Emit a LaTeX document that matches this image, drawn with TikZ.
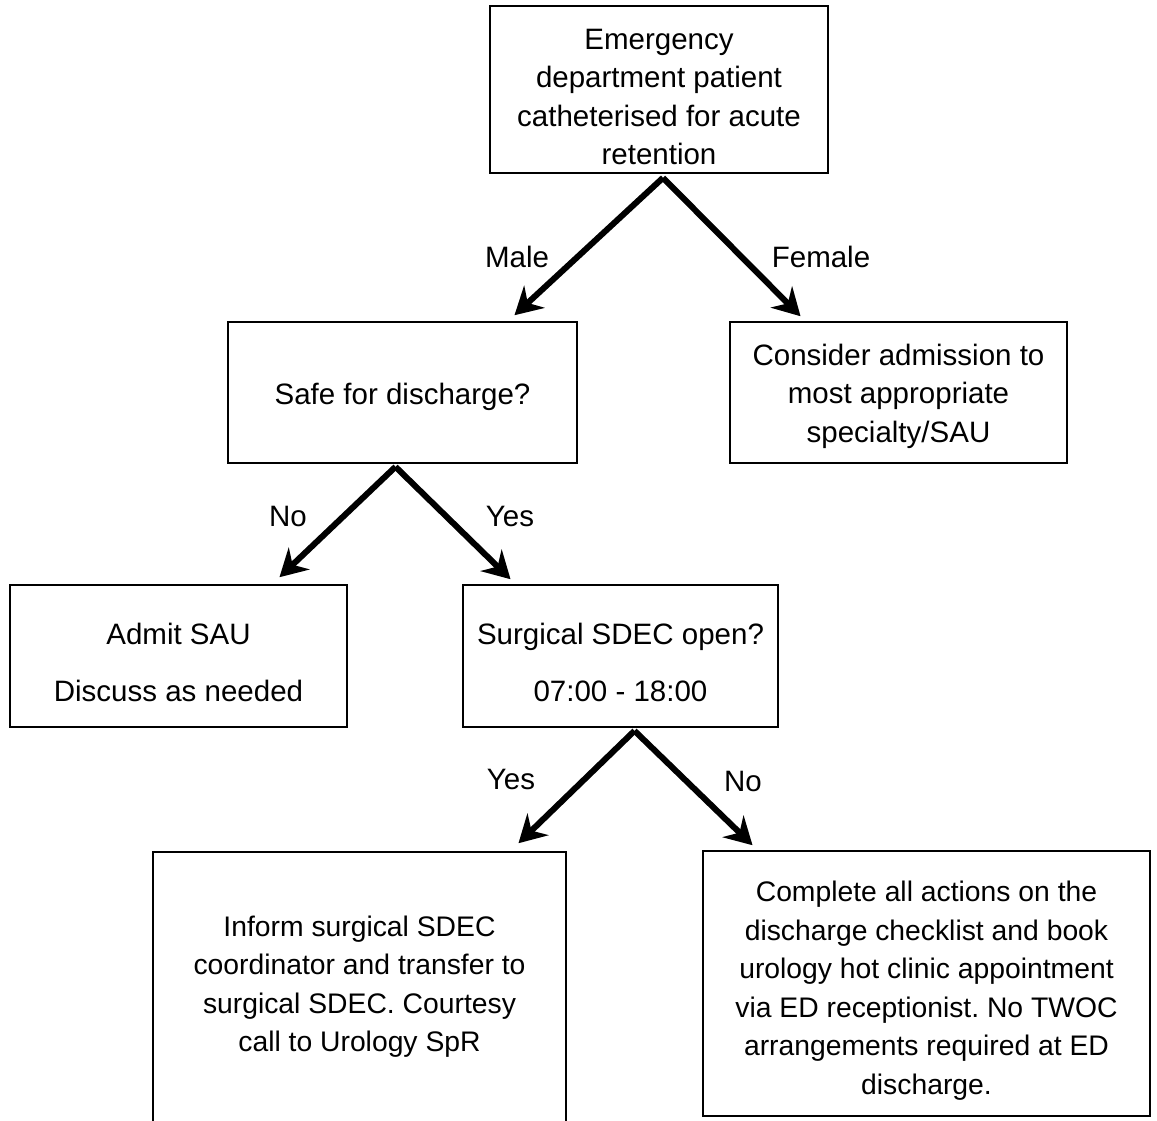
\documentclass[tikz,border=0pt]{standalone}
\usepackage{fontspec}
\setmainfont{Liberation Sans}
\usetikzlibrary{arrows.meta,calc}
\begin{document}
\frenchspacing
\begin{tikzpicture}[x=1pt,y=-1pt,
  box/.style={draw=black,line width=1.6pt,inner sep=0pt,rectangle},
  txt/.style={font=\fontsize{29.5}{38.5}\selectfont\frenchspacing,align=center,inner sep=0pt,anchor=base},
  txtsm/.style={txt,font=\fontsize{28.3}{38.5}\selectfont\frenchspacing},
  lbl/.style={font=\fontsize{29.5}{38.5}\selectfont,inner sep=0pt,anchor=base},
  arr/.style={line width=6pt,-{Stealth[length=27pt,width=30pt,inset=9pt]}},
  shd/.style={line width=6pt,draw=black!35,opacity=0.45,-{Stealth[length=27pt,width=30pt,inset=9pt]},shift={(2pt,-3pt)}},
]
\useasboundingbox (0,0) rectangle (1157,1121);
\clip (0,0) rectangle (1157,1121);

% boxes
\node[box,minimum width=338pt,minimum height=167pt] (A) at (659,89.5) {};
\node[box,minimum width=349pt,minimum height=141pt] (B) at (402.5,392.5) {};
\node[box,minimum width=337pt,minimum height=141pt] (C) at (898.5,392.5) {};
\node[box,minimum width=337pt,minimum height=142pt] (D) at (178.5,656) {};
\node[box,minimum width=315pt,minimum height=142pt] (E) at (620.5,656) {};
\node[box,minimum width=413pt,minimum height=328pt] (F) at (359.5,1016) {};
\node[box,minimum width=447pt,minimum height=265pt] (G) at (926.5,983.5) {};

% texts (anchored at the baseline of the last line)
\node[txt] (At) at (659,164.5) {Emergency\\department patient\\catheterised for acute\\retention};
\node[txt] (Bt) at (402.5,404) {Safe for discharge?};
\node[txt] (Ct) at (898.5,442) {Consider admission to\\most appropriate\\specialty/SAU};
\node[txt] (Dt) at (178.5,701) {Admit SAU\\[18.5pt]Discuss as needed};
\node[txt] (Et) at (620.5,701) {Surgical SDEC open?\\[18.5pt]07:00 - 18:00};
\node[txtsm] (Ft) at (359.5,1051.5) {Inform surgical SDEC\\coordinator and transfer to\\surgical SDEC. Courtesy\\call to Urology SpR};
\node[txtsm] (Gt) at (926.5,1094) {Complete all actions on the\\discharge checklist and book\\urology hot clinic appointment\\via ED receptionist. No TWOC\\arrangements required at ED\\discharge.};

% connectors: shadows
\draw[shd] ($(A.south)+(4,4)$) -- ($(B.north)+(112,-6)$);
\draw[shd] ($(A.south)+(4,4)$) -- ($(C.north)+(-98,-5)$);
\draw[shd] ($(B.south)+(-7,3)$) -- ($(D.north)+(101,-7)$);
\draw[shd] ($(B.south)+(-7,3)$) -- ($(E.north)+(-110,-5)$);
\draw[shd] ($(E.south)+(14,3)$) -- ($(F.north)+(159,-8)$);
\draw[shd] ($(E.south)+(14,3)$) -- ($(G.north)+(-174,-5)$);
% connectors
\draw[arr] ($(A.south)+(4,4)$) -- ($(B.north)+(112,-6)$);
\draw[arr] ($(A.south)+(4,4)$) -- ($(C.north)+(-98,-5)$);
\draw[arr] ($(B.south)+(-7,3)$) -- ($(D.north)+(101,-7)$);
\draw[arr] ($(B.south)+(-7,3)$) -- ($(E.north)+(-110,-5)$);
\draw[arr] ($(E.south)+(14,3)$) -- ($(F.north)+(159,-8)$);
\draw[arr] ($(E.south)+(14,3)$) -- ($(G.north)+(-174,-5)$);

% labels
\node[lbl] (lMale) at (517,267) {Male};
\node[lbl] (lFemale) at (821,267) {Female};
\node[lbl] (lNo1) at (288,526) {No};
\node[lbl] (lYes1) at (510,526) {Yes};
\node[lbl] (lYes2) at (511,789) {Yes};
\node[lbl] (lNo2) at (743,791) {No};
\end{tikzpicture}
\end{document}
